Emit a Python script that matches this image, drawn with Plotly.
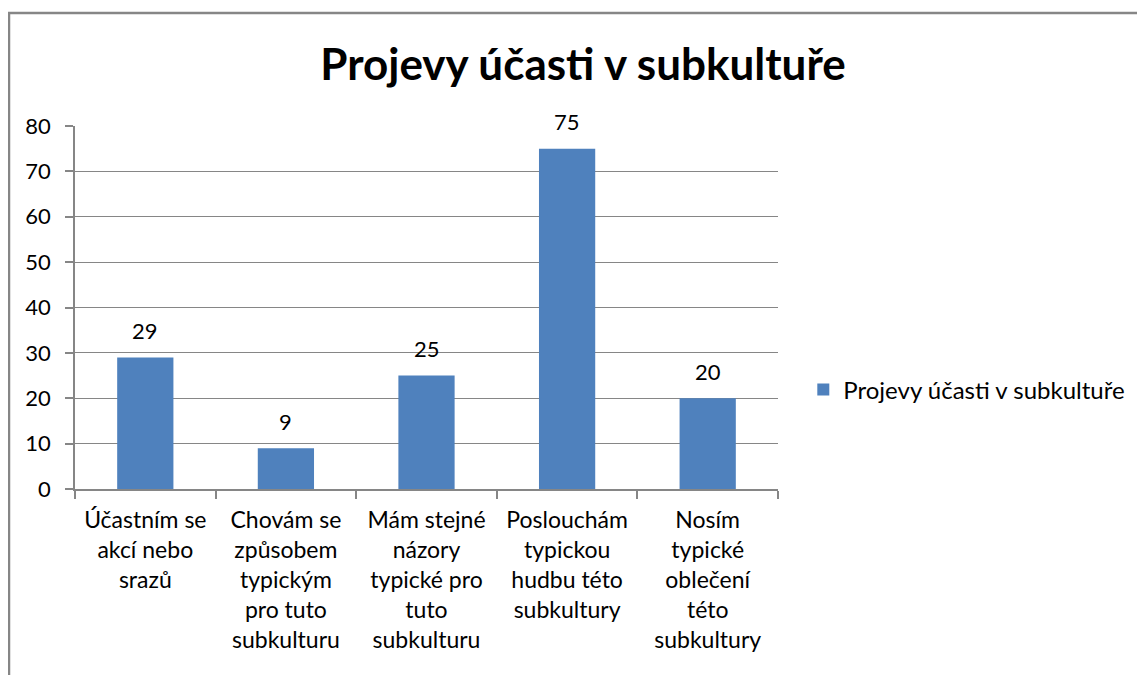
import plotly.graph_objects as go

categories = [
    "Účastním se<br>akcí nebo<br>srazů",
    "Chovám se<br>způsobem<br>typickým<br>pro tuto<br>subkulturu",
    "Mám stejné<br>názory<br>typické pro<br>tuto<br>subkulturu",
    "Poslouchám<br>typickou<br>hudbu této<br>subkultury",
    "Nosím<br>typické<br>oblečení<br>této<br>subkultury",
]
values = [29, 9, 25, 75, 20]
series_name = "Projevy účasti v subkultuře"
title_text = "Projevy účasti v subkultuře"
y_ticks = [0, 10, 20, 30, 40, 50, 60, 70, 80]

FONT = "Lato"
BLUE = "#4F81BD"
GRID = "#868686"

fig = go.Figure()
fig.add_trace(go.Bar(
    x=categories, y=values, name=series_name,
    marker=dict(color=BLUE, line=dict(width=0)),
    showlegend=True,
))

for c, v in zip(categories, values):
    fig.add_annotation(x=c, y=v, text=str(v), showarrow=False,
                       yanchor="middle", yshift=27,
                       font=dict(family=FONT, size=22, color="#000000"))

fig.add_shape(type="rect", xref="paper", yref="paper",
              x0=(1 - 67) / 703, x1=1.8, y0=-0.7, y1=1.311,
              line=dict(color=GRID, width=2.5), fillcolor="rgba(0,0,0,0)",
              layer="below")

fig.update_layout(
    width=1145, height=675,
    margin=dict(l=67, r=375, t=118, b=194, autoexpand=False),
    paper_bgcolor="white", plot_bgcolor="white",
    bargap=0.6,
    font=dict(family=FONT, size=22, color="#000000"),
    title=dict(text="<b>" + title_text + "</b>", x=575 / 1145, xanchor="center",
               xref="container", yref="container", y=1 - 57 / 675,
               yanchor="middle", font=dict(family=FONT, size=44, color="#000000")),
    legend=dict(x=1.036, y=0.273, xanchor="left", yanchor="middle",
                font=dict(family=FONT, size=24), bgcolor="rgba(0,0,0,0)"),
    xaxis=dict(type="category", showline=True, linecolor=GRID, linewidth=1.5,
               ticks="outside", tickson="boundaries", ticklen=8, tickcolor=GRID,
               tickwidth=1.5, showgrid=False, tickangle=0, automargin=False,
               ticklabelstandoff=10,
               tickfont=dict(family=FONT, size=23)),
    yaxis=dict(range=[0, 80], tickvals=y_ticks, showline=True, linecolor=GRID,
               linewidth=1.5, ticks="outside", ticklen=8, tickcolor=GRID,
               tickwidth=1.5, showgrid=True, gridcolor=GRID, gridwidth=1,
               zeroline=False, automargin=False, ticklabelstandoff=10,
               tickfont=dict(family=FONT, size=22)),
)

fig.write_html("out.html")
